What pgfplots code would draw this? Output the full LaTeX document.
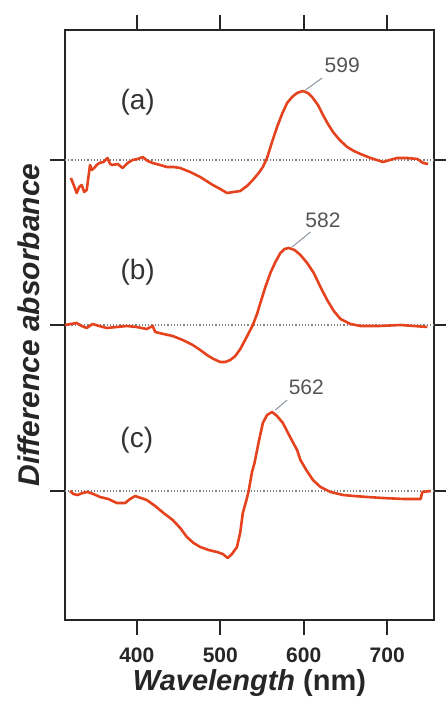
\documentclass[border=0pt]{standalone}
\usepackage{pgfplots}
\pgfplotsset{compat=1.18}
\usepackage{fontspec}
\setmainfont{Liberation Sans}
\setsansfont{Liberation Sans}
\definecolor{curve}{HTML}{E5421E}
\definecolor{lead}{HTML}{8A96A3}
\definecolor{numtxt}{HTML}{555555}
\begin{document}
\begin{tikzpicture}
\begin{axis}[
  scale only axis,
  width=369pt, height=590pt,
  xmin=314, xmax=756,
  ymin=0, ymax=590,
  clip=false,
  axis line style={line width=2.8pt, black!85},
  tick align=outside,
  major tick length=15pt,
  tick style={line width=2.4pt, black!85},
  xtick={400,500,600,700},
  xtick pos=both,
  xticklabel pos=bottom,
  ytick={129,295,460},
  ytick pos=both,
  yticklabels={},
  ticklabel style={font=\fontsize{21}{24}\selectfont\bfseries, text=black!85},
  xticklabel style={yshift=-9pt},
  xlabel={\textbf{\textit{Wavelength}} \textbf{(nm)}},
  ylabel={\textbf{\textit{Difference absorbance}}},
  label style={text=black!85},
  xlabel style={font=\fontsize{29}{32}\selectfont, yshift=0pt},
  ylabel style={font=\fontsize{30}{34}\selectfont, yshift=0pt},
  /pgf/number format/assume math mode=true,
]
% baselines
\addplot[gray, dotted, line width=1.2pt] coordinates {(314,460) (756,460)};
\addplot[gray, dotted, line width=1.2pt] coordinates {(314,295) (756,295)};
\addplot[gray, dotted, line width=1.2pt] coordinates {(314,129) (756,129)};
% (a)
\addplot[curve, line width=2.6pt, line join=round] coordinates {
(321,442) (324,436) (328,427) (331,433) (334,435) (337,428) (340,430) (344,455) (346,450)
(349,452) (352,455) (355,457) (360,458) (365,462) (368,456) (371,455) (377,456) (383,452)
(389,457) (395,460) (401,461) (407,463) (413,459) (419,457) (428,455) (436,453) (444,453)
(452,452) (464,448) (476,443) (491,435) (500,431) (508,427) (516,428) (524,429) (532,434)
(539,440) (546,447) (551,453) (556,462) (562,478) (568,493) (574,506) (580,517) (586,523)
(592,527) (599,529) (605,527) (610,523) (617,515) (623,505) (629,496) (635,488) (643,480)
(652,473) (660,469) (668,466) (680,462) (695,458) (703,460) (712,462) (724,462) (736,461)
(743,457) (749,456)};
% (b)
\addplot[curve, line width=2.6pt, line join=round] coordinates {
(314,295) (321,296) (328,297) (334,294) (340,292) (347,296) (355,294) (364,292) (376,293)
(388,294) (400,293) (412,291) (419,294) (422,288) (432,286) (443,284) (455,280) (467,275)
(476,270) (484,265) (492,261) (500,258) (506,258) (512,260) (518,264) (524,271) (531,282)
(539,295) (544,306) (548,317) (554,333) (560,347) (566,358) (572,367) (577,371) (582,372)
(589,370) (596,365) (604,357) (612,347) (620,333) (628,320) (636,309) (644,301) (656,296)
(668,294) (690,294) (716,295) (732,294) (748,293)};
% (c)
\addplot[curve, line width=2.6pt, line join=round] coordinates {
(320,129) (324,126) (329,125) (335,127) (341,128) (348,126) (356,123) (366,121) (376,117)
(386,117) (392,121) (398,124) (405,122) (412,120) (422,114) (432,107) (443,100) (452,92)
(460,83) (468,77) (476,73) (486,70) (496,68) (503,66) (509,62) (514,66) (520,73) (524,88)
(527,107) (531,119) (534,129) (538,148) (541,157) (546,178) (551,197) (556,205) (562,208)
(568,204) (575,197) (583,184) (592,170) (596,160) (603,150) (611,140) (620,133) (632,128)
(647,125) (660,124) (676,123) (695,122) (720,121) (740,121) (742,128) (752,129)};
% peak leaders
\addplot[lead, line width=1pt] coordinates {(602,530) (622,542)};
\addplot[lead, line width=1pt] coordinates {(586,373) (608,388)};
\addplot[lead, line width=1pt] coordinates {(566,210) (580,220)};
% labels
\node[font=\fontsize{28}{32}\selectfont, text=black!80] at (axis cs:401,518) {(a)};
\node[font=\fontsize{28}{32}\selectfont, text=black!80] at (axis cs:401,348) {(b)};
\node[font=\fontsize{28}{32}\selectfont, text=black!80] at (axis cs:400,180) {(c)};
\node[font=\fontsize{21}{24}\selectfont, text=numtxt] at (axis cs:646,555) {599};
\node[font=\fontsize{21}{24}\selectfont, text=numtxt] at (axis cs:623,400) {582};
\node[font=\fontsize{21}{24}\selectfont, text=numtxt] at (axis cs:603,233) {562};
\end{axis}
\pgfresetboundingbox
\path ([shift={(-65pt,-82pt)}]current axis.south west) rectangle ([shift={(12pt,30pt)}]current axis.north east);
\end{tikzpicture}
\end{document}
